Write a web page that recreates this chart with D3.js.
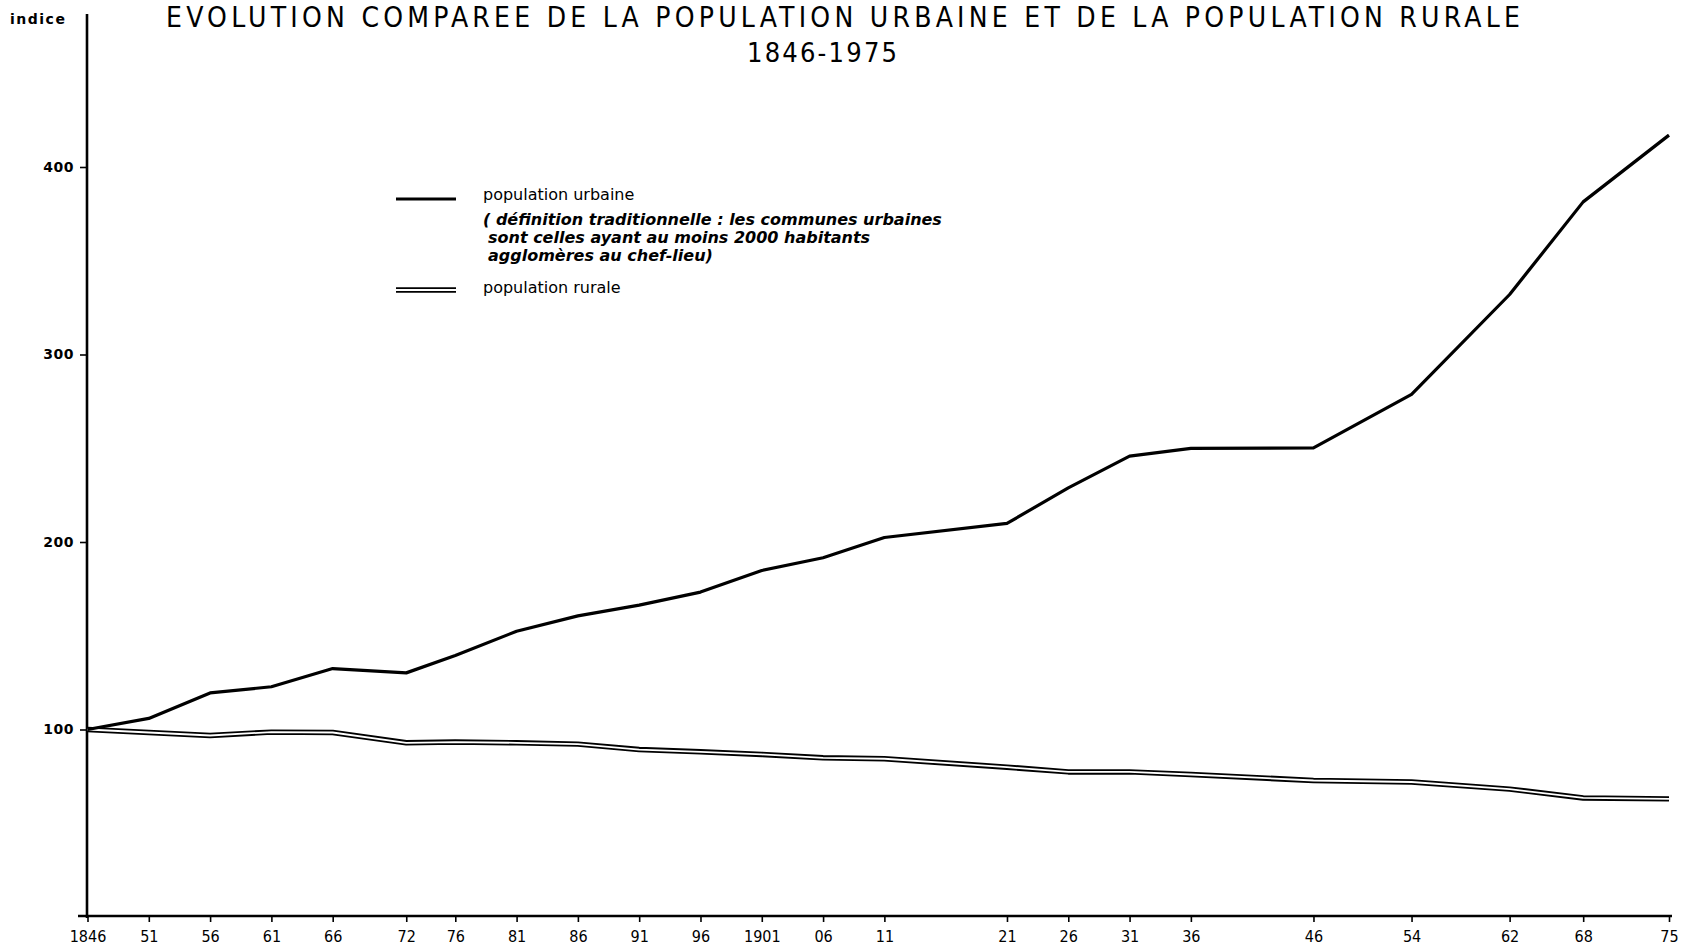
<!DOCTYPE html>
<html>
<head>
<meta charset="utf-8">
<script src="https://cdn.jsdelivr.net/npm/d3@7"></script>
<style>
  html, body { margin: 0; padding: 0; background: #fff; }
  svg { display: block; }
  text { fill: #000; }
</style>
</head>
<body>
<svg id="chart" width="1694" height="949"></svg>
<script>
// Census years (x axis) and indices, base 100 in 1846
const years = [1846, 1851, 1856, 1861, 1866, 1872, 1876, 1881, 1886, 1891, 1896, 1901,
               1906, 1911, 1921, 1926, 1931, 1936, 1946, 1954, 1962, 1968, 1975];
const yearLabels = ["1846", "51", "56", "61", "66", "72", "76", "81", "86", "91", "96", "1901",
                    "06", "11", "21", "26", "31", "36", "46", "54", "62", "68", "75"];
const urbaine = [100, 105.9, 119.5, 122.8, 132.5, 130.2, 139.5, 152.4, 160.6, 166.3, 173.3, 184.8,
                 191.6, 202.4, 209.9, 228.9, 245.8, 249.9, 250.2, 278.7, 332, 381.4, 417];
const rurale = [100, 98.4, 96.8, 98.6, 98.4, 92.9, 93.3, 92.9, 92.2, 89.3, 88.1, 86.7,
                84.9, 84.4, 79.9, 77.4, 77.4, 76, 72.8, 72, 68.2, 63.5, 63];
const yTicks = [100, 200, 300, 400];

const titleText = "EVOLUTION COMPAREE DE LA POPULATION URBAINE ET DE LA POPULATION RURALE";
const subtitleText = "1846-1975";
const legendUrbaine = "population urbaine";
const legendNote = ["( définition traditionnelle : les communes urbaines",
                    "sont celles ayant au moins 2000 habitants",
                    "agglomères au chef-lieu)"];
const legendRurale = "population rurale";

const svg = d3.select("#chart");
const font = "'DejaVu Sans', 'Liberation Sans', sans-serif";
const condensed = "'DejaVu Sans Condensed', 'DejaVu Sans', sans-serif";

const x = d3.scaleLinear().domain([1846, 1975]).range([87.5, 1669]);
const y = d3.scaleLinear().domain([0, 400]).range([917, 167]);

// Title and period
svg.append("text")
  .attr("x", 166).attr("y", 27)
  .attr("textLength", 1354).attr("lengthAdjust", "spacing")
  .style("font-family", condensed).style("font-size", "28px")
  .text(titleText);

svg.append("text")
  .attr("x", 822).attr("y", 62).attr("text-anchor", "middle")
  .attr("textLength", 150).attr("lengthAdjust", "spacing")
  .style("font-family", condensed).style("font-size", "27px")
  .text(subtitleText);

// Y axis label
svg.append("text")
  .attr("x", 10).attr("y", 24)
  .style("font-family", font).style("font-size", "14px").style("font-weight", "bold")
  .style("letter-spacing", "1.5px")
  .text("indice");

// Axes
const xAxis = d3.axisBottom(x)
  .tickValues(years)
  .tickFormat((d, i) => yearLabels[i])
  .tickSize(6).tickPadding(9);

const gx = svg.append("g").attr("transform", "translate(0,916)").call(xAxis);
gx.select(".domain").remove();
gx.selectAll(".tick line").attr("stroke", "#000").attr("stroke-width", 1.6);
gx.selectAll(".tick text")
  .style("font-family", condensed).style("font-size", "16px");

const yAxis = d3.axisLeft(y)
  .tickValues(yTicks)
  .tickSize(7).tickPadding(6);

const gy = svg.append("g").attr("transform", "translate(87,0)").call(yAxis);
gy.select(".domain").remove();
gy.selectAll(".tick line").attr("stroke", "#000").attr("stroke-width", 1.6);
gy.selectAll(".tick text")
  .style("font-family", font).style("font-size", "14px").style("font-weight", "bold")
  .style("letter-spacing", "0.5px");

// Axis lines
svg.append("line")
  .attr("x1", 87).attr("x2", 87).attr("y1", 14).attr("y2", 918)
  .attr("stroke", "#000").attr("stroke-width", 2.6);
svg.append("line")
  .attr("x1", 78).attr("x2", 1672).attr("y1", 916).attr("y2", 916)
  .attr("stroke", "#000").attr("stroke-width", 2.6);

// Series
const line = d3.line()
  .x(d => x(d[0]))
  .y(d => y(d[1]));

const urbData = years.map((yr, i) => [yr, urbaine[i]]);
const rurData = years.map((yr, i) => [yr, rurale[i]]);

// Rural population: double line (black casing, white core)
svg.append("path").datum(rurData).attr("d", line)
  .attr("fill", "none").attr("stroke", "#000").attr("stroke-width", 5.5)
  .attr("stroke-linejoin", "round");
svg.append("path").datum(rurData).attr("d", line)
  .attr("fill", "none").attr("stroke", "#fff").attr("stroke-width", 1.8)
  .attr("stroke-linejoin", "round");

// Urban population: single heavy line
svg.append("path").datum(urbData).attr("d", line)
  .attr("fill", "none").attr("stroke", "#000").attr("stroke-width", 3.2)
  .attr("stroke-linejoin", "round");

// Legend
const lg = svg.append("g");
lg.append("line").attr("x1", 396).attr("x2", 456).attr("y1", 199).attr("y2", 199)
  .attr("stroke", "#000").attr("stroke-width", 2.8);
lg.append("text").attr("x", 483).attr("y", 200)
  .style("font-family", font).style("font-size", "16px")
  .text(legendUrbaine);
legendNote.forEach((t, i) => {
  lg.append("text").attr("x", i === 0 ? 483 : 488).attr("y", 225 + i * 18)
    .style("font-family", font).style("font-size", "16px").style("font-style", "italic")
    .style("font-weight", "bold")
    .text(t);
});
lg.append("line").attr("x1", 396).attr("x2", 456).attr("y1", 290).attr("y2", 290)
  .attr("stroke", "#000").attr("stroke-width", 5.5);
lg.append("line").attr("x1", 396).attr("x2", 456).attr("y1", 290).attr("y2", 290)
  .attr("stroke", "#fff").attr("stroke-width", 1.8);
lg.append("text").attr("x", 483).attr("y", 293)
  .style("font-family", font).style("font-size", "16px")
  .text(legendRurale);
</script>
</body>
</html>
